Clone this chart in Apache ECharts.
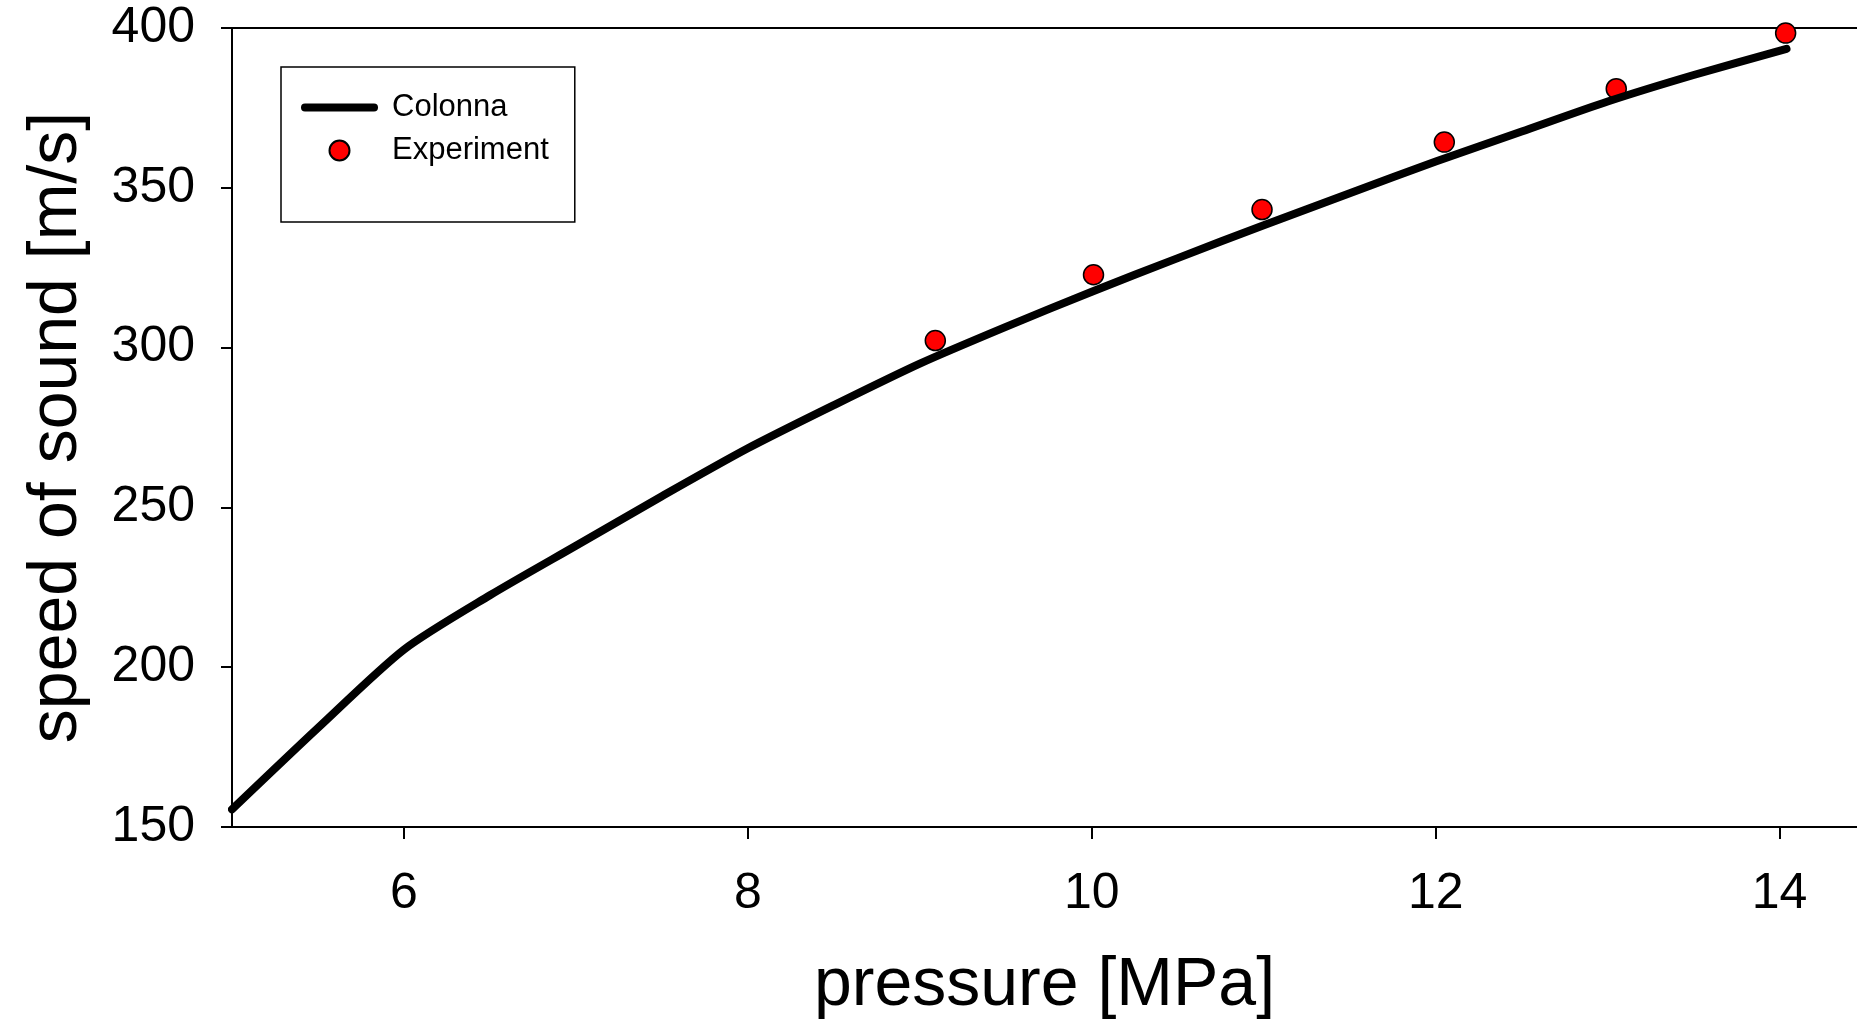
<!DOCTYPE html>
<html>
<head>
<meta charset="utf-8">
<script src="https://cdn.jsdelivr.net/npm/echarts@6/dist/echarts.min.js"></script>
<style>
  html, body { margin: 0; padding: 0; background: #fff; }
  #main { width: 1857px; height: 1024px; }
</style>
</head>
<body>
<div id="main"></div>
<script>
// Colonna model curve (pressure in MPa, speed of sound in m/s)
const colonnaP = [5.0, 5.5, 6.0, 6.5, 7.0, 7.5, 8.0, 8.5, 9.0, 9.5, 10.0, 10.5, 11.0, 11.5, 12.0, 12.5, 13.0, 13.5, 14.04]
const colonnaV = [155.5, 181, 205.5, 222.5, 238, 253.5, 268.5, 282, 295, 306.5, 317.5, 328, 338.3, 348.3, 358.2, 367.6, 377, 385.3, 393.5]

// measured points
const expP = [9.09, 10.01, 10.99, 12.05, 13.05, 14.035]
const expV = [302.2, 322.8, 343.2, 364.3, 381.0, 398.4]

const xTicks = [6, 8, 10, 12, 14]

const font = 'Liberation Sans, Arial, Helvetica, sans-serif'

var myChart = echarts.init(document.getElementById('main'))

var option = {
  backgroundColor: '#fff',
  animation: false,
  textStyle: { fontFamily: font, color: '#000' },
  grid: {
    left: 232,
    right: 0,
    top: 28,
    bottom: 197,
    outerBoundsMode: 'none'
  },
  legend: {
    orient: 'vertical',
    left: 281,
    top: 67,
    padding: [25, 26, 56, 20],
    borderColor: '#000',
    borderWidth: 1.5,
    itemWidth: 69,
    itemHeight: 20,
    itemGap: 12,
    textStyle: {
      fontFamily: font,
      fontSize: 31,
      lineHeight: 31,
      color: '#000',
      padding: [0, 0, 0, 13]
    },
    data: [
      {
        name: 'Colonna',
        lineStyle: { width: 8, cap: 'round', color: '#000' },
        itemStyle: { color: '#000', opacity: 0, borderWidth: 0 }
      },
      { name: 'Experiment' }
    ]
  },
  xAxis: [
    {
      type: 'value',
      min: 5,
      max: 14.45,
      name: 'pressure [MPa]',
      nameLocation: 'middle',
      nameGap: 125,
      nameTextStyle: { fontFamily: font, fontSize: 68, color: '#000' },
      splitLine: { show: false },
      axisLine: { show: true, onZero: false, lineStyle: { color: '#000', width: 2 } },
      axisTick: { show: true, customValues: xTicks, length: 12, lineStyle: { color: '#000', width: 2 } },
      axisLabel: { customValues: xTicks, fontFamily: font, fontSize: 50, color: '#000', margin: 42 }
    },
    {
      type: 'value',
      position: 'top',
      min: 5,
      max: 14.45,
      splitLine: { show: false },
      axisLine: { show: true, onZero: false, lineStyle: { color: '#000', width: 2 } },
      axisTick: { show: false },
      axisLabel: { show: false }
    }
  ],
  yAxis: {
    type: 'value',
    min: 150,
    max: 400,
    interval: 50,
    name: 'speed of sound [m/s]',
    nameLocation: 'middle',
    nameGap: 141,
    nameTextStyle: { fontFamily: font, fontSize: 68, color: '#000' },
    splitLine: { show: false },
    axisLine: { show: true, onZero: false, lineStyle: { color: '#000', width: 2 } },
    axisTick: { show: true, length: 11, lineStyle: { color: '#000', width: 2 } },
    axisLabel: { fontFamily: font, fontSize: 50, color: '#000', margin: 37 }
  },
  series: [
    {
      name: 'Colonna',
      type: 'line',
      symbol: 'none',
      clip: false,
      smooth: 0.25,
      lineStyle: { color: '#000', width: 8, cap: 'round', join: 'round' },
      itemStyle: { color: '#000' },
      data: colonnaP.map((p, i) => [p, colonnaV[i]])
    },
    {
      name: 'Experiment',
      type: 'scatter',
      symbol: 'circle',
      symbolSize: 20,
      clip: false,
      itemStyle: { color: '#ff0000', borderColor: '#000', borderWidth: 1.5, opacity: 1 },
      data: expP.map((p, i) => [p, expV[i]])
    }
  ]
}

myChart.setOption(option)
</script>
</body>
</html>
